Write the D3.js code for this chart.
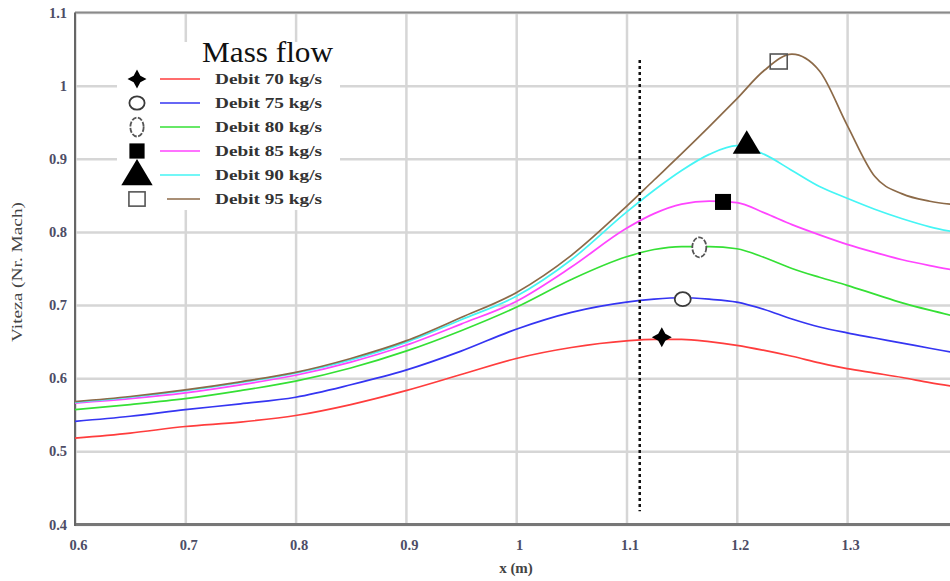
<!DOCTYPE html>
<html>
<head>
<meta charset="utf-8">
<script src="https://cdn.jsdelivr.net/npm/d3@7"></script>
<style>
  body { margin: 0; background: #fff; }
</style>
</head>
<body>
<div id="chart"></div>
<script>
// x positions (m) shared by all series
const xValues = [0.6, 0.65, 0.7, 0.75, 0.8, 0.85, 0.9, 0.95, 1.0, 1.05, 1.1, 1.125, 1.15, 1.175, 1.2, 1.225, 1.25, 1.275, 1.3, 1.325, 1.35, 1.375, 1.4];

// Mach number per mass flow
const debit70 = [0.518, 0.525, 0.534, 0.540, 0.549, 0.564, 0.583, 0.605, 0.627, 0.642, 0.651, 0.653, 0.653, 0.650, 0.645, 0.638, 0.630, 0.621, 0.613, 0.607, 0.601, 0.594, 0.588];
const debit75 = [0.541, 0.548, 0.557, 0.565, 0.574, 0.591, 0.611, 0.637, 0.667, 0.690, 0.704, 0.708, 0.710, 0.708, 0.704, 0.694, 0.681, 0.670, 0.662, 0.655, 0.648, 0.641, 0.634];
const debit80 = [0.557, 0.564, 0.572, 0.583, 0.596, 0.614, 0.637, 0.665, 0.697, 0.735, 0.766, 0.776, 0.780, 0.780, 0.777, 0.765, 0.750, 0.738, 0.727, 0.715, 0.703, 0.693, 0.684];
const debit85 = [0.566, 0.572, 0.580, 0.591, 0.604, 0.622, 0.645, 0.674, 0.705, 0.752, 0.805, 0.825, 0.838, 0.842, 0.840, 0.826, 0.810, 0.796, 0.783, 0.772, 0.762, 0.754, 0.747];
const debit90 = [0.567, 0.574, 0.583, 0.594, 0.607, 0.625, 0.649, 0.680, 0.712, 0.762, 0.827, 0.857, 0.884, 0.906, 0.918, 0.906, 0.884, 0.862, 0.846, 0.831, 0.818, 0.807, 0.799];
const debit95 = [0.568, 0.575, 0.584, 0.595, 0.608, 0.627, 0.651, 0.683, 0.717, 0.768, 0.835, 0.871, 0.907, 0.944, 0.982, 1.021, 1.043, 1.020, 0.946, 0.876, 0.852, 0.842, 0.837];

const seriesNames = ["Debit 70 kg/s", "Debit 75 kg/s", "Debit 80 kg/s", "Debit 85 kg/s", "Debit 90 kg/s", "Debit 95 kg/s"];
const seriesColors = ["#ff3d3d", "#3535f2", "#35e035", "#ff45ff", "#45f5f5", "#8c6a48"];
const markerTypes = ["star", "circle", "oval", "square", "triangle", "openSquare"];

// peak markers
const markerX = [1.132, 1.151, 1.166, 1.1875, 1.209, 1.238];
const markerY = [0.656, 0.708, 0.779, 0.841, 0.922, 1.033];

// dotted reference line
const refX = 1.112;
const refY = [0.418, 1.035];

const xTicks = [0.6, 0.7, 0.8, 0.9, 1, 1.1, 1.2, 1.3];
const yTicks = [0.4, 0.5, 0.6, 0.7, 0.8, 0.9, 1, 1.1];

const width = 950, height = 581;
const serif = "'Liberation Serif', 'Times New Roman', serif";

const svg = d3.select("#chart").append("svg")
  .attr("width", width)
  .attr("height", height)
  .style("display", "block");

const x = d3.scaleLinear().domain([0.6, 1.4]).range([75, 957.4]);
const y = d3.scaleLinear().domain([0.4, 1.1]).range([524.5, 12.5]);

// grid + tick labels
const gx = svg.append("g")
  .attr("transform", `translate(0,${y(0.4)})`)
  .call(d3.axisBottom(x).tickValues(xTicks).tickFormat(d3.format("")).tickSize(-(y(0.4) - y(1.1))).tickPadding(15));
const gy = svg.append("g")
  .attr("transform", `translate(${x(0.6)},0)`)
  .call(d3.axisLeft(y).tickValues(yTicks).tickFormat(d3.format("")).tickSize(-(width - x(0.6))).tickPadding(8));

[gx, gy].forEach((g) => {
  g.select(".domain").remove();
  g.selectAll(".tick line").attr("stroke", "#d6d6d6").attr("stroke-width", 2.5);
  g.selectAll(".tick text")
    .attr("fill", "#4d4d66")
    .style("font-family", serif)
    .style("font-size", "14.5px")
    .style("font-weight", "bold");
});
gx.selectAll(".tick text").attr("dx", 3);

// frame
svg.append("line").attr("x1", x(0.6)).attr("x2", width).attr("y1", y(1.1)).attr("y2", y(1.1))
  .attr("stroke", "#8a8a8a").attr("stroke-width", 2);
svg.append("line").attr("x1", x(0.6)).attr("x2", width).attr("y1", y(0.4)).attr("y2", y(0.4))
  .attr("stroke", "#777").attr("stroke-width", 3);
svg.append("line").attr("x1", x(0.6)).attr("x2", x(0.6)).attr("y1", y(1.1)).attr("y2", y(0.4) + 1.5)
  .attr("stroke", "#666").attr("stroke-width", 2);

// legend background hides the grid
svg.append("rect").attr("x", 117).attr("y", 42).attr("width", 223).attr("height", 168).attr("fill", "#fff");

// curves
const allSeries = [debit70, debit75, debit80, debit85, debit90, debit95];
const line = d3.line()
  .x((d) => x(d[0]))
  .y((d) => y(d[1]))
  .curve(d3.curveMonotoneX);

allSeries.forEach((vals, i) => {
  svg.append("path")
    .datum(xValues.map((xv, j) => [xv, vals[j]]))
    .attr("d", line)
    .attr("fill", "none")
    .attr("stroke", seriesColors[i])
    .attr("stroke-width", 1.7);
});

// dotted vertical line
svg.append("line")
  .attr("x1", x(refX)).attr("x2", x(refX))
  .attr("y1", y(refY[1])).attr("y2", y(refY[0]))
  .attr("stroke", "#111")
  .attr("stroke-width", 2.5)
  .attr("stroke-dasharray", "3,3");

// marker drawing
function drawMarker(g, type, cx, cy, s) {
  if (type === "star") {
    const pts = d3.range(8).map((k) => {
      const a = -Math.PI / 2 + k * Math.PI / 4;
      const r = k % 2 === 0 ? 10 * s : 5 * s;
      return [cx + r * Math.cos(a), cy + r * Math.sin(a)];
    });
    g.append("path").attr("d", "M" + pts.join("L") + "Z").attr("fill", "#000");
  } else if (type === "circle") {
    g.append("ellipse").attr("cx", cx).attr("cy", cy).attr("rx", 8 * s).attr("ry", 7 * s)
      .attr("fill", "#fff").attr("stroke", "#3a3a3a").attr("stroke-width", 1.8);
  } else if (type === "oval") {
    g.append("ellipse").attr("cx", cx).attr("cy", cy).attr("rx", 7 * s).attr("ry", 10 * s)
      .attr("fill", "#fff").attr("stroke", "#555").attr("stroke-width", 1.8)
      .attr("stroke-dasharray", "5,1.5");
  } else if (type === "square") {
    g.append("rect").attr("x", cx - 8 * s).attr("y", cy - 8 * s).attr("width", 16 * s).attr("height", 16 * s)
      .attr("fill", "#000");
  } else if (type === "triangle") {
    g.append("path")
      .attr("d", `M${cx},${cy - 12.5 * s}L${cx + 14 * s},${cy + 11 * s}L${cx - 14 * s},${cy + 11 * s}Z`)
      .attr("fill", "#000");
  } else {
    g.append("rect").attr("x", cx - 8.5 * s).attr("y", cy - 7.5 * s).attr("width", 17 * s).attr("height", 15 * s)
      .attr("fill", "none").attr("stroke", "#555").attr("stroke-width", 1.6);
  }
}

const markers = svg.append("g");
markerTypes.forEach((t, i) => drawMarker(markers, t, x(markerX[i]), y(markerY[i]), 1));

// legend
const legend = svg.append("g");
legend.append("text")
  .attr("x", 202).attr("y", 62)
  .attr("textLength", 131).attr("lengthAdjust", "spacingAndGlyphs")
  .style("font-family", serif).style("font-size", "29px")
  .attr("fill", "#111")
  .text("Mass flow");

seriesNames.forEach((name, i) => {
  const ry = 79 + i * 24;
  drawMarker(legend, markerTypes[i], 137, i === 4 ? ry - 2 : ry, i === 4 ? 1.12 : 0.95);
  legend.append("line")
    .attr("x1", i === 5 ? 167 : 160).attr("x2", 200)
    .attr("y1", ry).attr("y2", ry)
    .attr("stroke", seriesColors[i]).attr("stroke-width", 1.7);
  legend.append("text")
    .attr("x", 215).attr("y", ry + 5)
    .attr("textLength", 107).attr("lengthAdjust", "spacingAndGlyphs")
    .style("font-family", serif).style("font-size", "15px").style("font-weight", "bold")
    .attr("fill", "#333")
    .text(name);
});

// axis titles
svg.append("text")
  .attr("transform", "translate(22,272) rotate(-90)")
  .attr("text-anchor", "middle")
  .attr("textLength", 140).attr("lengthAdjust", "spacingAndGlyphs")
  .style("font-family", serif).style("font-size", "15px")
  .attr("fill", "#444")
  .text("Viteza (Nr. Mach)");

svg.append("text")
  .attr("x", 516).attr("y", 573)
  .attr("text-anchor", "middle")
  .style("font-family", serif).style("font-size", "15px").style("font-weight", "bold")
  .attr("fill", "#444")
  .text("x (m)");
</script>
</body>
</html>
